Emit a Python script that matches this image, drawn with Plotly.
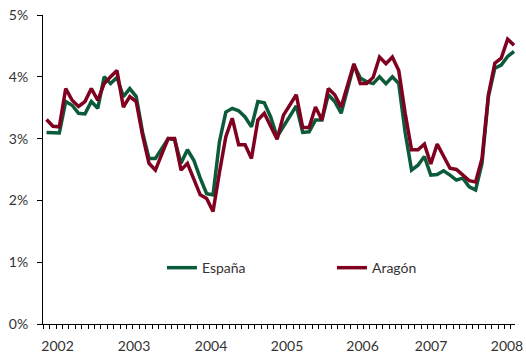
import plotly.graph_objects as go
import pandas as pd

# Monthly series, Jan 2002 - Feb 2008 (values in %)
months = pd.date_range("2002-01-01", periods=74, freq="MS").strftime("%b %Y").tolist()

espana = [3.10, 3.10, 3.09, 3.60, 3.54, 3.41, 3.40, 3.60, 3.49, 4.00, 3.89, 3.99,
          3.68, 3.81, 3.68, 3.10, 2.68, 2.68, 2.85, 3.00, 2.98, 2.60, 2.82, 2.65,
          2.36, 2.11, 2.09, 2.95, 3.43, 3.49, 3.45, 3.35, 3.19, 3.60, 3.58, 3.35,
          3.03, 3.20, 3.38, 3.53, 3.10, 3.11, 3.30, 3.30, 3.71, 3.60, 3.41, 3.78,
          4.19, 3.98, 3.92, 3.89, 4.00, 3.89, 4.00, 3.89, 3.10, 2.49, 2.57, 2.71,
          2.41, 2.42, 2.48, 2.41, 2.33, 2.36, 2.22, 2.17, 2.60, 3.68, 4.14, 4.19,
          4.33, 4.41]

aragon = [3.31, 3.20, 3.19, 3.81, 3.62, 3.52, 3.60, 3.81, 3.62, 3.89, 4.00, 4.10,
          3.51, 3.68, 3.60, 3.05, 2.60, 2.49, 2.75, 3.00, 3.00, 2.49, 2.60, 2.35,
          2.09, 2.03, 1.82, 2.45, 3.03, 3.33, 2.90, 2.90, 2.68, 3.30, 3.41, 3.20,
          2.99, 3.38, 3.54, 3.71, 3.18, 3.18, 3.51, 3.30, 3.81, 3.71, 3.51, 3.87,
          4.21, 3.89, 3.89, 3.99, 4.32, 4.21, 4.32, 4.10, 3.41, 2.82, 2.82, 2.91,
          2.59, 2.91, 2.71, 2.52, 2.50, 2.41, 2.32, 2.30, 2.68, 3.71, 4.22, 4.30,
          4.61, 4.51]

year_labels = ["2002", "2003", "2004", "2005", "2006", "2007", "2008"]
year_label_pos = [1.72, 13.66, 25.69, 37.55, 49.34, 60.04, 71.9]

y_ticks = [0, 1, 2, 3, 4, 5]
y_labels = ["0%", "1%", "2%", "3%", "4%", "5%"]

x = list(range(len(months)))

GREEN = "#0B5A3A"
RED = "#80001F"
TEXT = "#333333"
FONT = "Lato"

fig = go.Figure()
fig.add_trace(go.Scatter(
    x=x, y=espana, name="España", mode="lines", customdata=months,
    line=dict(color=GREEN, width=3.5),
    hovertemplate="%{customdata}: %{y:.2f}%<extra>España</extra>"))
fig.add_trace(go.Scatter(
    x=x, y=aragon, name="Aragón", mode="lines", customdata=months,
    line=dict(color=RED, width=3.5),
    hovertemplate="%{customdata}: %{y:.2f}%<extra>Aragón</extra>"))

fig.update_layout(
    width=526, height=353,
    margin=dict(l=43, r=11, t=15, b=29, autoexpand=False),
    paper_bgcolor="white", plot_bgcolor="white",
    font=dict(family=FONT, size=14, color=TEXT),
    showlegend=True,
    legend=dict(orientation="h", x=0.252, y=0.181, xanchor="left", yanchor="middle",
                bgcolor="rgba(0,0,0,0)", borderwidth=0,
                entrywidth=125, entrywidthmode="pixels",
                font=dict(family=FONT, size=14, color=TEXT)),
    xaxis=dict(range=[-0.55, 73.15], showgrid=False, zeroline=False, automargin=False,
               showline=True, linecolor="black", linewidth=1,
               tickmode="array", tickvals=year_label_pos, ticktext=year_labels,
               ticks="outside", ticklen=0, ticklabelstandoff=9,
               minor=dict(ticks="outside", tickmode="linear", tick0=-0.5, dtick=1,
                          ticklen=4, tickcolor="black", tickwidth=1, showgrid=False),
               fixedrange=True),
    yaxis=dict(range=[0, 5], showgrid=False, zeroline=False, automargin=False,
               showline=True, linecolor="black", linewidth=1,
               tickmode="array", tickvals=y_ticks, ticktext=y_labels,
               ticks="outside", ticklen=5, tickcolor="black",
               ticklabelstandoff=6, fixedrange=True),
)

fig.write_html("out.html")
